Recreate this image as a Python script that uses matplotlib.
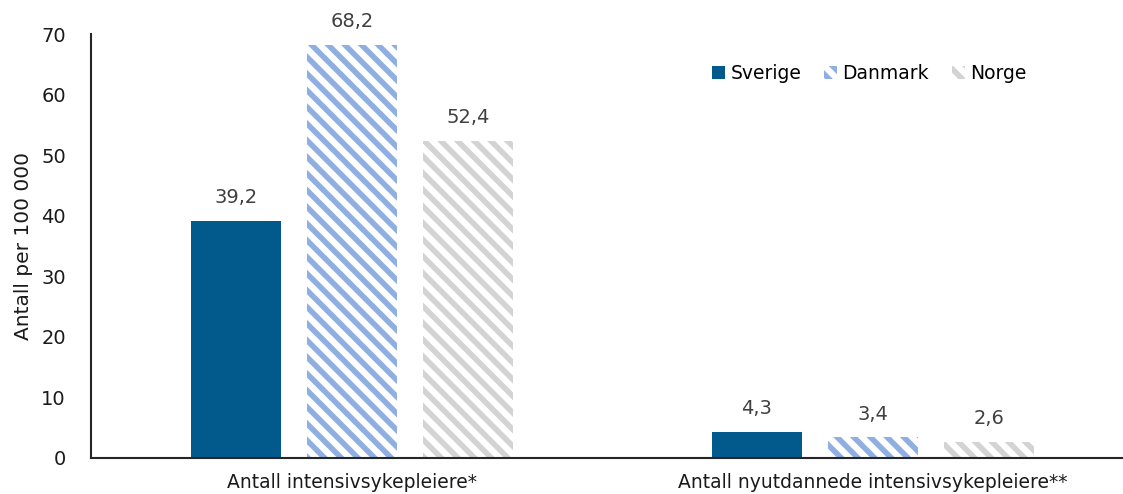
import matplotlib
matplotlib.use("Agg")
import matplotlib.pyplot as plt
import numpy as np

categories = ["Antall intensivsykepleiere*", "Antall nyutdannede intensivsykepleiere**"]
countries = ["Sverige", "Danmark", "Norge"]
sverige = [39.2, 4.3]
danmark = [68.2, 3.4]
norge = [52.4, 2.6]
y_ticks = [0, 10, 20, 30, 40, 50, 60, 70]

plt.rcParams["font.family"] = ["DejaVu Sans"]
plt.rcParams["hatch.linewidth"] = 4.0

fig = plt.figure(figsize=(11.23, 4.94), dpi=100)
ax = fig.add_axes([0.081, 0.0729, 0.919, 0.858])

x = np.arange(len(categories))
width = 0.173
step = 0.2226

styles = [
    dict(color="#02598C", hatch=None),
    dict(color="white", edgecolor="#8FAEE2", hatch="\\\\"),
    dict(color="white", edgecolor="#D3D3D3", hatch="\\\\"),
]

for i, (name, vals, st) in enumerate(zip(countries, [sverige, danmark, norge], styles)):
    pos = x + (i - 1) * step
    if st["hatch"] is None:
        bars = ax.bar(pos, vals, width, color=st["color"], linewidth=0, label=name)
    else:
        bars = ax.bar(pos, vals, width, facecolor="white", edgecolor=st["edgecolor"],
                      hatch=st["hatch"], linewidth=0, label=name)
    for b, v in zip(bars, vals):
        ax.annotate(f"{v:.1f}".replace(".", ","), (b.get_x() + b.get_width() / 2, v),
                    xytext=(0, 10), textcoords="offset points", ha="center", va="bottom",
                    fontsize=14, color="#404040")

ax.set_xlim(-0.501, 1.480)
ax.set_ylim(0, 70)
ax.set_yticks(y_ticks)
ax.set_yticklabels([str(t) for t in y_ticks], fontsize=14, color="#1a1a1a")
ax.set_xticks(x)
ax.set_xticklabels(categories, fontsize=13.5, color="#1a1a1a")
ax.tick_params(axis="both", length=0)
ax.tick_params(axis="y", pad=18)
ax.tick_params(axis="x", pad=11)
ax.set_ylabel("Antall per 100 000", fontsize=14.5, color="#1a1a1a", labelpad=6)

for s in ["top", "right"]:
    ax.spines[s].set_visible(False)
for s in ["left", "bottom"]:
    ax.spines[s].set_color("#262626")
    ax.spines[s].set_linewidth(1.5)

ax.legend(loc="upper right", bbox_to_anchor=(0.923, 0.97), ncol=3, frameon=False,
          fontsize=13.5, handlelength=0.7, handleheight=0.7, handletextpad=0.3,
          columnspacing=1.2)

fig.savefig("out.png", dpi=100)
